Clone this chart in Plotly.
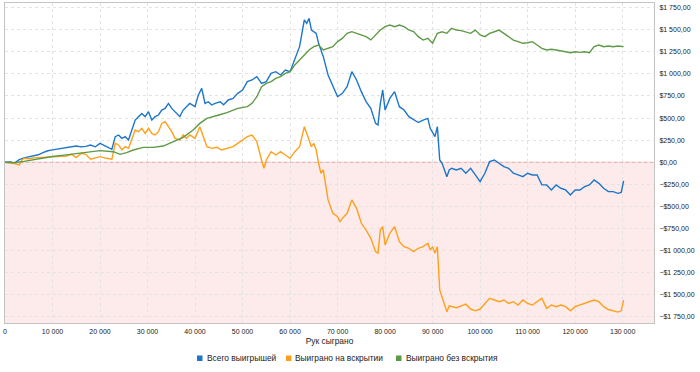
import plotly.graph_objects as go

# ---------------- data (hands in thousands, winnings in $) ----------------
hands_total = [0, 1, 2, 3, 4, 5, 6, 7, 8, 9, 10, 11, 12, 13, 14, 15, 16, 17, 18, 19,
               20, 21, 22.5, 23.2, 23.9, 24.6, 25.3, 26, 26.7, 27.4, 28.1, 28.8, 29.5, 30.2, 30.9, 31.6,
               32.3, 33, 33.7, 34.4, 35.1, 35.8, 36.8, 37.5, 38.2, 38.9, 40, 40.7, 41.4, 42.1, 42.8, 43.5,
               44.2, 45.3, 46,
               47, 48, 49, 50, 51, 52, 53, 54, 55, 56, 57, 58, 59, 60, 61, 62, 62.5,
               63, 63.5, 64, 64.5, 65, 65.5, 66, 67, 68, 69, 70, 71, 72, 73, 74, 75, 76, 77, 78, 78.5, 79,
               79.5, 80, 81, 82, 83, 84, 85, 86, 87, 88, 89, 89.5, 90, 90.5, 91, 91.5, 92, 92.5, 93, 93.5,
               94, 95, 96, 97, 98, 99, 100, 101, 102, 103, 104, 105, 106, 107, 108, 109, 110, 111, 112,
               113, 114, 115, 116, 117, 118, 119, 120, 121, 122, 123, 124, 125, 126, 127, 128, 129, 129.7,
               130.2]
total_won = [0, 5, -8, 30, 50, 60, 75, 85, 110, 130, 140, 148, 155, 165, 172, 185, 175, 180, 195, 175,
             214, 184, 147, 290, 309, 271, 290, 252, 365, 478, 516, 553, 516, 572, 478, 516,
             535, 591, 610, 666, 610, 572, 516, 591, 629, 666, 629, 761, 836, 666, 685, 648,
             666, 685, 650,
             705, 723, 780, 818, 912, 931, 969, 893, 912, 1006, 1025, 988, 1044, 1025, 1176, 1308, 1459,
             1610, 1572, 1628, 1496, 1478, 1459, 1346, 1195, 988, 855, 742, 780, 855, 1025, 931, 799, 686,
             610, 440, 421, 667, 818, 591, 723, 799, 629, 591, 516, 478, 450, 478, 497, 384, 328, 290, 403,
             26, -12, -87, -163, -87, -68, -87, -68, -124, -68, -143, -219, -124, 7, 26, -12, -49, -68,
             -124, -143, -162, -124, -143, -143, -256, -256, -313, -256, -294, -313, -369, -313, -313,
             -275, -256, -200, -238, -294, -332, -332, -351, -340, -210]

hands_showdown = [0, 1, 2, 3, 3.5, 4, 5, 6, 7, 8, 9, 10, 11, 12, 13, 14, 15, 16, 17, 18, 19,
                  20, 21.4, 22.5, 23.2, 23.9, 24.6, 25.3, 26, 26.7, 27.4, 28.1, 28.8, 29.5, 30.2, 30.9,
                  31.6, 32.3, 33, 33.7, 34.4, 35.1, 35.8, 36.8, 37.5, 38.2, 38.9, 40, 41, 41.8, 42.5, 43.5,
                  44.6, 45.6, 46.7,
                  48, 49, 50, 51, 52, 53, 54, 54.5, 55, 56, 57,
                  58, 59, 60, 61, 62, 62.5, 63, 63.5, 64, 64.5, 65, 65.5, 66, 66.5, 67, 67.5, 68, 69, 70,
                  70.5, 71, 72, 73, 74, 75, 76, 77, 78, 78.5, 79, 79.5, 80, 81, 82, 83, 84, 85, 86, 87, 88,
                  89, 89.5, 90, 90.5, 91, 91.5, 92, 92.5, 93, 93.5, 94, 95, 96, 97, 98, 99, 100, 101, 102,
                  103, 104, 105, 106, 107, 108, 109, 110, 111, 112, 113, 114, 115, 116, 117, 118, 119, 120,
                  121, 122, 123, 124, 125, 126, 127, 128, 129, 129.7, 130.2]
showdown_won = [0, -5, -15, -30, 20, 45, 40, 50, 53, 60, 64, 62, 66, 68, 71, 90, 53, 101, 90, 34, 45,
                64, 45, 34, 215, 196, 139, 177, 158, 252, 365, 346, 384, 327, 384, 327,
                309, 346, 440, 459, 403, 346, 271, 252, 309, 271, 309, 271, 403, 290, 177, 158,
                169, 139, 158,
                177, 214, 252, 290, 309, 233, 26, -68, 26, 120, 83,
                120, 83, 45, 120, 177, 290, 403, 328, 252, 177, 214, 139, -11, -124, -87, -275, -426, -577,
                -615, -671, -634, -577, -426, -521, -690, -766, -860, -1011, -1030, -766, -728, -935, -803,
                -728, -898, -954, -973, -1011, -973, -954, -916, -992, -954, -1030, -954, -1444, -1520,
                -1610, -1690, -1625, -1630, -1645, -1625, -1605, -1660, -1680, -1660, -1605, -1539,
                -1558, -1577, -1558, -1596, -1577, -1614, -1558, -1596, -1614, -1577, -1539, -1652, -1614,
                -1633, -1614, -1633, -1680, -1633, -1614, -1596, -1577, -1558, -1577, -1633, -1665, -1680,
                -1695, -1680, -1560]

hands_nonshowdown = [0, 2, 4, 6, 8, 10, 12, 14, 16, 18,
                     20, 22.8, 24.2, 25.6, 27, 29.1, 31.2, 33.3, 35.4, 37.5, 39.6, 41, 42.5, 43.9, 45, 46.7,
                     49, 51, 52, 53, 54, 55, 56, 57, 58, 59,
                     60, 61, 62, 63, 64, 65, 66, 67, 68, 69, 70, 71, 72, 73, 74, 75, 76, 77, 78, 79, 80, 81,
                     82, 83, 84, 85, 86, 87, 88, 89, 90, 91, 92, 93, 94, 95, 96, 97, 98, 99, 100, 101, 102,
                     103, 104, 105, 106, 107, 108, 109, 110, 111, 112, 113, 114, 115, 116, 117, 118, 119, 120,
                     121, 122, 123, 124, 125, 126, 127, 128, 129, 130.2]
nonshowdown_won = [0, -5, 10, 30, 50, 65, 78, 90, 105, 115,
                   132, 120, 90, 109, 139, 169, 169, 184, 233, 283, 365, 440, 497, 523, 535, 562,
                   610, 629, 667, 742, 855, 893, 912, 950, 969, 1006,
                   1025, 1101, 1157, 1214, 1270, 1308, 1327, 1270, 1289, 1308, 1365, 1402,
                   1459, 1478, 1459, 1440, 1421, 1384, 1440, 1497, 1534, 1553, 1534, 1553, 1534, 1497, 1478,
                   1421, 1383, 1402, 1346, 1459, 1477, 1459, 1515, 1496, 1489, 1477, 1459, 1496, 1440, 1421,
                   1459, 1477, 1496, 1459, 1421, 1383, 1365, 1346, 1353, 1365, 1327, 1289, 1270, 1278, 1270,
                   1263, 1251, 1240, 1251, 1244, 1251, 1240, 1308, 1327, 1308, 1316, 1308, 1316, 1308]

series_names = ["Всего выигрышей", "Выиграно на вскрытии", "Выиграно без вскрытия"]
series_colors = ["#1c76cb", "#ffa01c", "#5e9a45"]

x_tick_vals = [0, 10, 20, 30, 40, 50, 60, 70, 80, 90, 100, 110, 120, 130]
x_tick_text = ["0", "10 000", "20 000", "30 000", "40 000", "50 000", "60 000", "70 000",
               "80 000", "90 000", "100 000", "110 000", "120 000", "130 000"]
y_tick_vals = [1750, 1500, 1250, 1000, 750, 500, 250, 0, -250, -500, -750, -1000, -1250, -1500, -1750]
y_tick_text = ["$1 750,00", "$1 500,00", "$1 250,00", "$1 000,00", "$750,00", "$500,00", "$250,00",
               "$0,00", "−$250,00", "−$500,00", "−$750,00", "−$1 000,00", "−$1 250,00", "−$1 500,00",
               "−$1 750,00"]
x_title = "Рук сыграно"

# ---------------- figure ----------------
W, H = 700, 372
L, R, T, B = 5, 46, 3, 49
pw, ph = W - L - R, H - T - B
x_range = [0, 136.6]
y_range = [-1818, 1802]

fig = go.Figure()
for xs, ys, name, col in [(hands_total, total_won, series_names[0], series_colors[0]),
                          (hands_showdown, showdown_won, series_names[1], series_colors[1]),
                          (hands_nonshowdown, nonshowdown_won, series_names[2], series_colors[2])]:
    fig.add_trace(go.Scatter(x=xs, y=ys, name=name, mode="lines",
                             line=dict(color=col, width=1.4), showlegend=False))

# negative zone and zero line
fig.add_shape(type="rect", xref="paper", yref="y", x0=0, x1=1, y0=y_range[0], y1=0,
              fillcolor="#fdeaea", line=dict(width=0), layer="below")
fig.add_shape(type="line", xref="paper", yref="y", x0=0, x1=1, y0=0, y1=0,
              line=dict(color="#e6a4a4", width=1), layer="below")

# legend drawn below the plot
def px2x(px):
    return (px - L) / pw

def py2y(py):
    return (H - B - py) / ph

legend_sq_x = [197, 286, 396]
legend_txt_x = [205, 293, 403.5]
for i in range(3):
    fig.add_shape(type="rect", xref="paper", yref="paper",
                  x0=px2x(legend_sq_x[i]), x1=px2x(legend_sq_x[i] + 5.5),
                  y0=py2y(361), y1=py2y(355.5),
                  fillcolor=series_colors[i], line=dict(width=0))
    fig.add_annotation(xref="paper", yref="paper", x=px2x(legend_txt_x[i]), y=py2y(358.3),
                       xanchor="left", yanchor="middle", text=series_names[i], showarrow=False,
                       font=dict(size=8.4, color="#222222"))

grid = dict(showgrid=True, gridcolor="#e3e3e3", griddash="dot", gridwidth=1)
fig.update_layout(
    width=W, height=H,
    margin=dict(l=L, r=R, t=T, b=B),
    paper_bgcolor="white", plot_bgcolor="white",
    font=dict(family="Liberation Sans, Arial, sans-serif", color="#222222"),
    xaxis=dict(range=x_range, tickvals=x_tick_vals, ticktext=x_tick_text,
               tickfont=dict(size=7, color="#222222"), ticks="outside", ticklen=2,
               tickcolor="rgba(0,0,0,0)", showline=True, linecolor="#c4c4c4", mirror=True,
               zeroline=False, title=dict(text=x_title, font=dict(size=8.4, color="#222222"), standoff=3),
               **grid),
    yaxis=dict(range=y_range, side="right", tickvals=y_tick_vals, ticktext=y_tick_text,
               tickfont=dict(size=7, color="#222222"), ticks="outside", ticklen=3,
               tickcolor="rgba(0,0,0,0)", showline=True, linecolor="#c4c4c4", mirror=True,
               zeroline=False, **grid),
)

fig.write_html("out.html", config={"displayModeBar": False},
               post_script="document.body.style.margin='0';document.body.style.overflow='hidden';")
